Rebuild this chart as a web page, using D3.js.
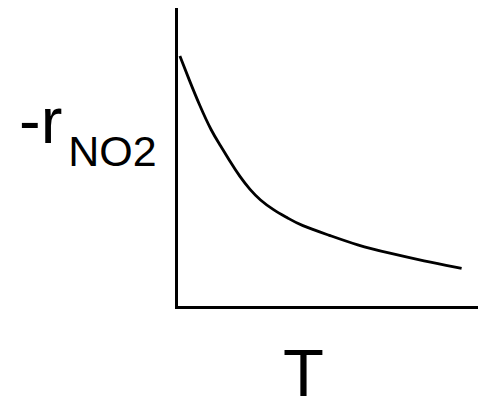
<!DOCTYPE html>
<html>
<head>
<meta charset="utf-8">
<script src="https://cdn.jsdelivr.net/npm/d3@7"></script>
<style>
  html, body { margin: 0; padding: 0; background: #fff; }
  svg { display: block; }
</style>
</head>
<body>
<svg id="chart" width="483" height="398"></svg>
<script>
// Temperature (arbitrary units, 0–100)
const temperature = [1.3, 4.4, 7.8, 11.9, 14.7, 18.0, 21.3, 24.7, 28.0, 32.4, 37.4, 41.3, 51.3, 60.2, 71.3, 82.4, 95.2];
// -r_NO2 (arbitrary units, 0–100)
const rate = [84.2, 76.2, 67.8, 58.8, 54.4, 48.8, 43.7, 39.3, 35.9, 32.6, 29.8, 27.5, 24.0, 20.8, 18.0, 15.5, 13.0];
const xLabel = "T";
const yLabelMain = "-r";
const yLabelSub = "NO2";

const svg = d3.select("#chart");
const x = d3.scaleLinear().domain([0, 100]).range([176, 476]);
const y = d3.scaleLinear().domain([0, 100]).range([307, 9]);

const points = temperature.map((t, i) => [t, rate[i]]);

// axes (no ticks)
const gx = svg.append("g").attr("transform", `translate(0,${y(0)})`)
  .call(d3.axisBottom(x).ticks(0).tickSizeOuter(0));
const gy = svg.append("g").attr("transform", `translate(${x(0)},0)`)
  .call(d3.axisLeft(y).ticks(0).tickSizeOuter(0));
[gx, gy].forEach(g => g.select(".domain")
  .attr("stroke", "#000").attr("stroke-width", 3).attr("stroke-linecap", "square"));

// curve
const line = d3.line().x(d => x(d[0])).y(d => y(d[1])).curve(d3.curveBasis);
svg.append("path").datum(points)
  .attr("d", line)
  .attr("fill", "none")
  .attr("stroke", "#000")
  .attr("stroke-width", 2.8);

// x label
svg.append("text")
  .attr("x", 303.5).attr("y", 396)
  .attr("text-anchor", "middle")
  .attr("font-family", "Liberation Sans, Arial, sans-serif")
  .attr("font-size", 67)
  .attr("fill", "#000")
  .text(xLabel);

// y label
const yl = svg.append("text")
  .attr("x", 19).attr("y", 143)
  .attr("font-family", "Liberation Sans, Arial, sans-serif")
  .attr("fill", "#000");
yl.append("tspan").attr("font-size", 65).text(yLabelMain);
yl.append("tspan").attr("font-size", 43).attr("dx", 6).attr("dy", 23).text(yLabelSub);
</script>
</body>
</html>
